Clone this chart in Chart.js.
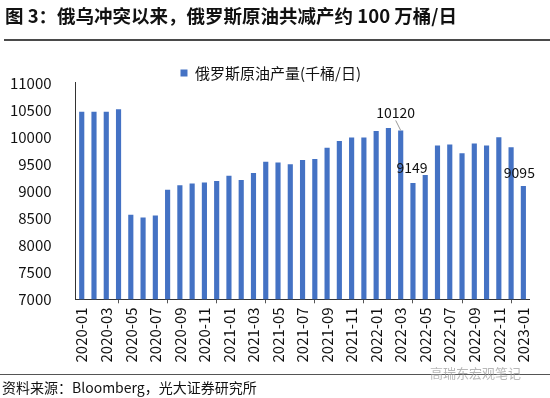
<!DOCTYPE html>
<html><head><meta charset="utf-8">
<script src="https://cdn.jsdelivr.net/npm/chart.js@4/dist/chart.umd.min.js"></script>
<style>
html,body{margin:0;padding:0;background:#fff;}
#wrap{position:relative;width:550px;height:398px;overflow:hidden;font-family:"Noto Sans CJK SC","Noto Sans",sans-serif;}
#title{position:absolute;left:5px;top:5px;font-size:18.5px;line-height:20px;font-weight:bold;color:#111;white-space:nowrap;}
#tline{position:absolute;left:4px;right:0;top:39px;height:2px;background:#4a4a4a;}
#bline{position:absolute;left:0;right:0;top:374px;height:1px;background:#555;}
#src{position:absolute;left:2px;top:378px;font-size:14px;line-height:18px;color:#111;white-space:nowrap;}
#wm{position:absolute;left:430px;top:365px;font-size:13px;line-height:16px;color:rgba(160,160,160,0.75);white-space:nowrap;}
canvas{position:absolute;left:0;top:0;}
</style></head>
<body><div id="wrap">
<canvas id="c" width="550" height="398"></canvas>
<div id="title">图 3：俄乌冲突以来，俄罗斯原油共减产约 100 万桶/日</div>
<div id="tline"></div>
<div id="bline"></div>
<div id="src">资料来源：Bloomberg，光大证券研究所</div>
<div id="wm">高瑞东宏观笔记</div>
</div>
<script>
const months = ['2020-01','2020-02','2020-03','2020-04','2020-05','2020-06','2020-07','2020-08','2020-09','2020-10','2020-11','2020-12',
'2021-01','2021-02','2021-03','2021-04','2021-05','2021-06','2021-07','2021-08','2021-09','2021-10','2021-11','2021-12',
'2022-01','2022-02','2022-03','2022-04','2022-05','2022-06','2022-07','2022-08','2022-09','2022-10','2022-11','2022-12','2023-01'];
const seriesName = '俄罗斯原油产量(千桶/日)';
const production = [10465,10465,10465,10510,8560,8512,8550,9025,9105,9140,9160,9185,
9282,9202,9332,9540,9527,9497,9575,9590,9798,9927,9988,9988,
10110,10165,10120,9149,9295,9840,9858,9700,9878,9840,9993,9810,9095];
const yTicks = {min:7000,max:11000,step:500};
const labeledMonths = ['2022-03','2022-04','2023-01'];
const labelOffsets = {'2022-03':[-5,-18],'2022-04':[-1,-15],'2023-01':[-4,-13]};

const FONT = '"Noto Sans CJK SC","Noto Sans",sans-serif';

const valueLabels = {
  id:'valueLabels',
  afterDatasetsDraw(chart){
    const ctx = chart.ctx;
    const meta = chart.getDatasetMeta(0);
    ctx.save();
    ctx.font = '14px ' + FONT;
    ctx.fillStyle = '#111';
    ctx.textAlign = 'center';
    ctx.textBaseline = 'middle';
    labeledMonths.forEach(m=>{
      const i = months.indexOf(m);
      const el = meta.data[i];
      const off = labelOffsets[m];
      const tx = el.x + off[0], ty = el.y + off[1];
      ctx.fillText(String(production[i]), tx, ty);
      if (m === '2022-03') {
        ctx.strokeStyle = '#999';
        ctx.lineWidth = 1;
        ctx.beginPath();
        ctx.moveTo(tx, ty + 8);
        ctx.lineTo(el.x, el.y);
        ctx.stroke();
      }
    });
    ctx.restore();
  }
};

const legendShift = {
  id:'legendShift',
  beforeDraw(chart){
    const lg = chart.legend;
    if (lg && !lg._shifted) {
      lg.top += 7.7; lg.bottom += 7.7;
      lg.left += 6; lg.right += 6;
      lg._shifted = true;
    }
  }
};

new Chart(document.getElementById('c'), {
  type:'bar',
  data:{labels:months,datasets:[{label:seriesName,data:production,backgroundColor:'#4472C4',borderWidth:0,
    barPercentage:0.42,categoryPercentage:1}]},
  options:{
    responsive:false,animation:false,devicePixelRatio:1,
    layout:{padding:{top:55.8,left:0,right:20.5,bottom:28}},
    plugins:{
      legend:{display:true,position:'top',align:'center',
        labels:{font:{family:FONT,size:15},color:'#111',boxWidth:7,boxHeight:7,padding:2}},
      tooltip:{enabled:false},
      title:{display:false}
    },
    scales:{
      x:{
        offset:true,
        grid:{display:true,drawOnChartArea:false,drawTicks:true,tickLength:4,offset:true,
          color:(c)=> (c.index % 2 === 0 ? '#555' : 'rgba(0,0,0,0)')},
        border:{display:true,color:'#333',width:1},
        ticks:{autoSkip:false,minRotation:90,maxRotation:90,padding:4,color:'#111',
          font:{family:FONT,size:15},
          callback:function(v,i){return i % 2 === 0 ? this.getLabelForValue(v) : null;}},
        afterFit:(s)=>{s.height = 70.7;}
      },
      y:{
        min:yTicks.min,max:yTicks.max,
        ticks:{stepSize:yTicks.step,padding:16,color:'#111',font:{family:FONT,size:15},
          callback:(v)=>String(v)},
        grid:{display:false},
        border:{display:true,color:'#333',width:1},
        afterFit:(s)=>{s.width = 75.6;}
      }
    }
  },
  plugins:[valueLabels, legendShift]
});
</script>
</body></html>
